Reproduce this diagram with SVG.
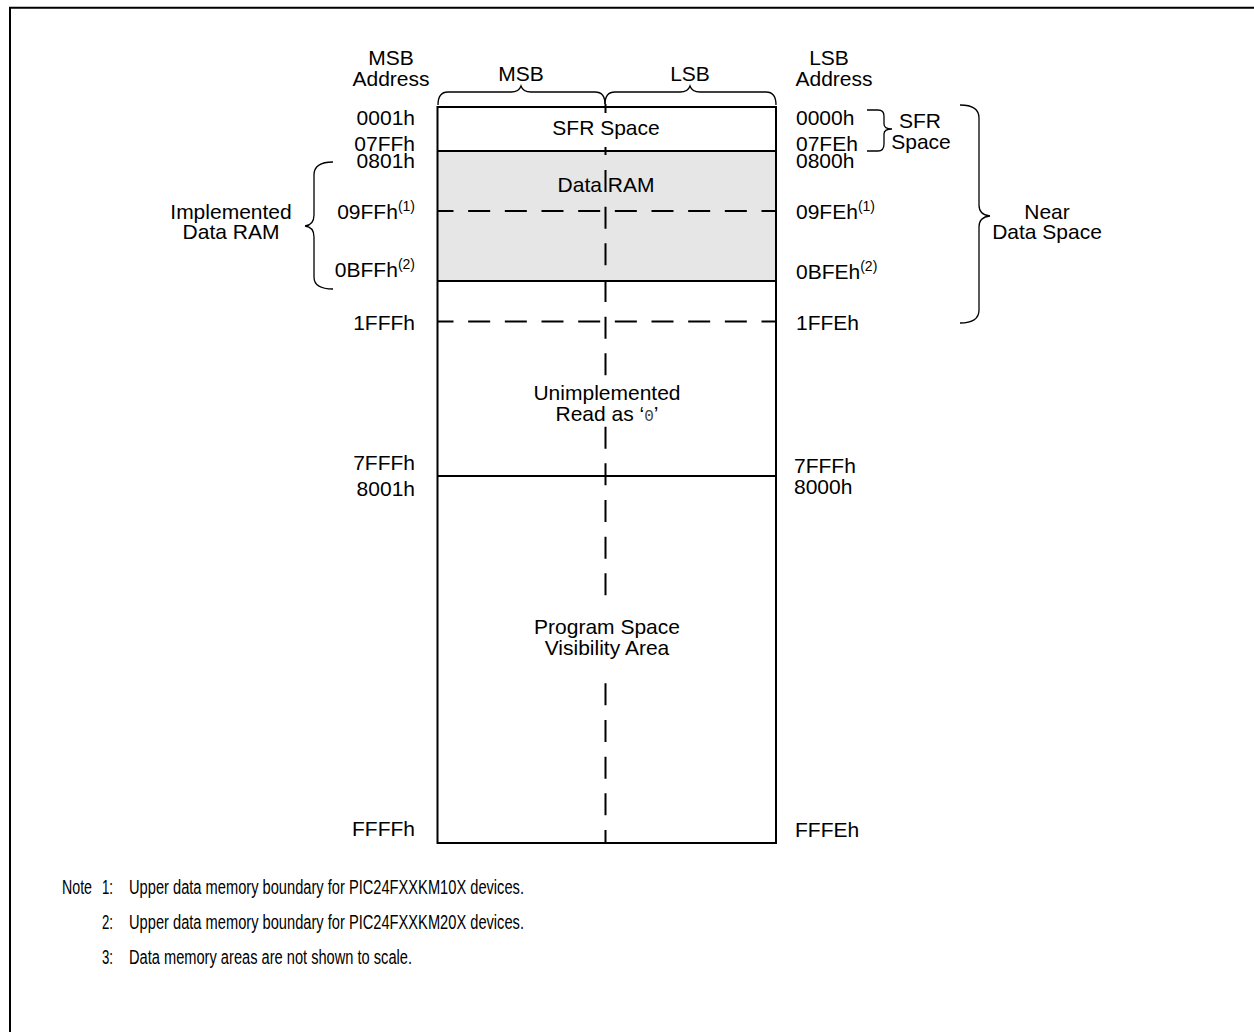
<svg xmlns="http://www.w3.org/2000/svg" width="1254" height="1032" viewBox="0 0 1254 1032">
<style>
text{font-family:"Liberation Sans",Arial,sans-serif;font-size:21px;fill:#000}
.m{text-anchor:middle}
.e{text-anchor:end}
.sup{font-size:14px}
.note{font-size:19.5px}
.ln{stroke:#000;stroke-width:2;fill:none}
.dl{stroke:#000;stroke-width:2;fill:none;stroke-dasharray:22 14.667}
.br{stroke:#000;stroke-width:1.3;fill:none}
</style>
<rect width="1254" height="1032" fill="#fff"/>
<path d="M10,1032 V7.7 H1254" stroke="#000" stroke-width="2" fill="none"/>

<g id="headers">
<text class="m" x="391" y="65">MSB</text>
<text class="m" x="391" y="86">Address</text>
<text class="m" x="829" y="65">LSB</text>
<text class="m" x="834" y="86">Address</text>
<text class="m" x="521" y="81">MSB</text>
<text class="m" x="690" y="81">LSB</text>
<path class="br" d="M438,105 Q438,92 448,92 H511 Q519,92 521,86 Q523,92 531,92 H595 Q605,92 605,104"/>
<path class="br" d="M605,104 Q605,92 615,92 H680 Q688,92 690,86 Q692,92 700,92 H766 Q776,92 776,105"/>
</g>

<g id="memory-map">
<rect x="437.5" y="151" width="338.5" height="130" fill="#e6e6e6"/>
<rect class="ln" x="437.5" y="107" width="338.5" height="736"/>
<line class="ln" x1="437.5" y1="151" x2="776" y2="151"/>
<line class="ln" x1="437.5" y1="281" x2="776" y2="281"/>
<line class="ln" x1="437.5" y1="476" x2="776" y2="476"/>
<line class="dl" x1="437.5" y1="211" x2="776" y2="211" stroke-dashoffset="6"/>
<line class="dl" x1="437.5" y1="321.5" x2="776" y2="321.5" stroke-dashoffset="6"/>
</g>

<g id="connectors">
<line class="ln" x1="605.5" y1="104" x2="605.5" y2="113"/>
<line class="ln" x1="605.5" y1="147" x2="605.5" y2="155"/>
<line class="dl" x1="605.5" y1="170" x2="605.5" y2="388"/>
<line class="dl" x1="605.5" y1="426.7" x2="605.5" y2="605"/>
<line class="dl" x1="605.5" y1="683.3" x2="605.5" y2="843"/>
</g>

<g id="region-labels">
<text class="m" x="606" y="134.5">SFR Space</text>
<text class="m" x="606" y="192">Data RAM</text>
<text class="m" x="607" y="400">Unimplemented</text>
<text class="m" x="607" y="421">Read as ‘<tspan font-family="Liberation Mono" font-size="16" fill="#444">0</tspan>’</text>
<text class="m" x="607" y="634">Program Space</text>
<text class="m" x="607" y="655">Visibility Area</text>
</g>

<g id="msb-addresses">
<text class="e" x="415" y="124.5">0001h</text>
<text class="e" x="415" y="151">07FFh</text>
<text class="e" x="415" y="167.5">0801h</text>
<text class="e" x="415" y="219">09FFh<tspan class="sup" dy="-8">(1)</tspan></text>
<text class="e" x="415" y="277">0BFFh<tspan class="sup" dy="-8">(2)</tspan></text>
<text class="e" x="415" y="330">1FFFh</text>
<text class="e" x="415" y="470">7FFFh</text>
<text class="e" x="415" y="496">8001h</text>
<text class="e" x="415" y="836">FFFFh</text>
</g>

<g id="lsb-addresses">
<text x="796" y="124.5">0000h</text>
<text x="796" y="151">07FEh</text>
<text x="796" y="167.5">0800h</text>
<text x="796" y="219">09FEh<tspan class="sup" dy="-8">(1)</tspan></text>
<text x="796" y="279">0BFEh<tspan class="sup" dy="-8">(2)</tspan></text>
<text x="796" y="330">1FFEh</text>
<text x="794" y="473">7FFFh</text>
<text x="794" y="494">8000h</text>
<text x="795" y="837">FFFEh</text>
</g>

<g id="implemented-data-ram">
<path class="br" d="M333,162 Q314,162 314,175 V215 Q314,225 305,226 Q314,227 314,237 V277 Q314,289 333,289"/>
<text class="m" x="231" y="219">Implemented</text>
<text class="m" x="231" y="239">Data RAM</text>
</g>

<g id="sfr-space">
<path class="br" d="M867,110 H878 Q884,110 884,116 V124 Q884,129 892,129 Q884,129 884,134 V144 Q884,151 878,151 H867"/>
<text class="m" x="920" y="128">SFR</text>
<text class="m" x="921" y="149">Space</text>
</g>

<g id="near-data-space">
<path class="br" d="M960,105 Q979,105 979,118 V205 Q979,215 990,216 Q979,217 979,227 V310 Q979,323 960,323"/>
<text class="m" x="1047" y="219">Near</text>
<text class="m" x="1047" y="239">Data Space</text>
</g>

<g id="notes">
<text class="note" x="62" y="894" textLength="30" lengthAdjust="spacingAndGlyphs">Note</text>
<text class="note" x="102" y="894" textLength="11" lengthAdjust="spacingAndGlyphs">1:</text>
<text class="note" x="129" y="894" textLength="395" lengthAdjust="spacingAndGlyphs">Upper data memory boundary for PIC24FXXKM10X devices.</text>
<text class="note" x="102" y="929" textLength="11" lengthAdjust="spacingAndGlyphs">2:</text>
<text class="note" x="129" y="929" textLength="395" lengthAdjust="spacingAndGlyphs">Upper data memory boundary for PIC24FXXKM20X devices.</text>
<text class="note" x="102" y="964" textLength="11" lengthAdjust="spacingAndGlyphs">3:</text>
<text class="note" x="129" y="964" textLength="283" lengthAdjust="spacingAndGlyphs">Data memory areas are not shown to scale.</text>
</g>
</svg>
